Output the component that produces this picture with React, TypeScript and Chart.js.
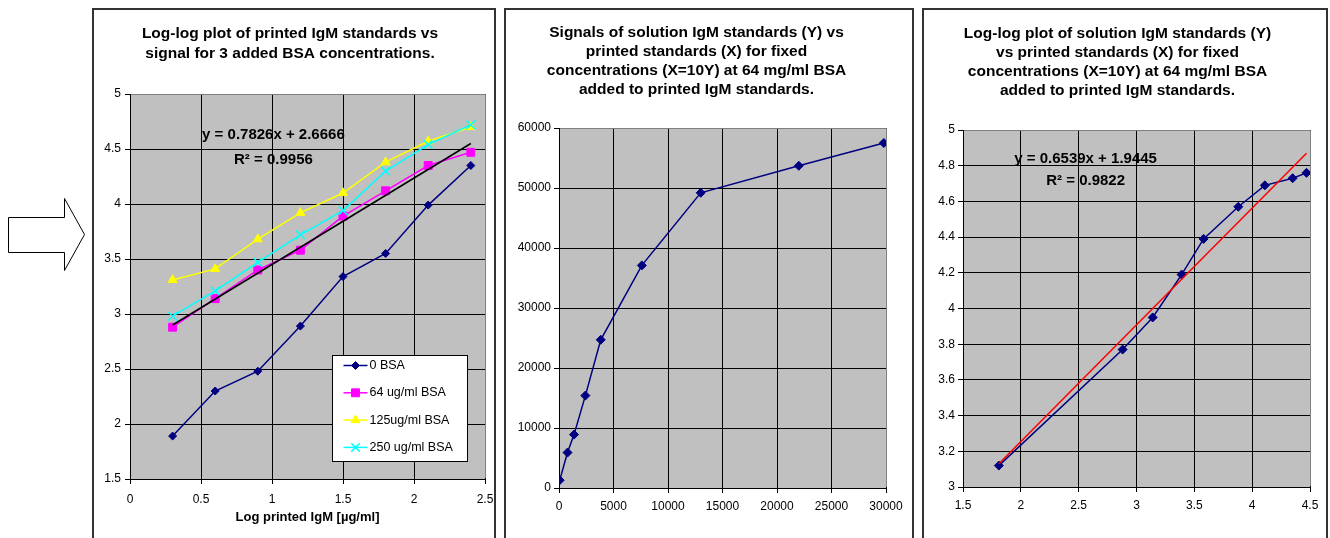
import React, { useEffect, useRef } from "react";
import { Chart, registerables } from "chart.js";
Chart.register(...registerables);

const FONT = "'Liberation Sans', Arial, sans-serif";

// ---------- Panel 1 data ----------
const logPrinted = [0.3, 0.6, 0.9, 1.2, 1.5, 1.8, 2.1, 2.4];
const bsa0 = [1.89, 2.3, 2.48, 2.89, 3.34, 3.55, 3.99, 4.35];
const bsa64 = [2.88, 3.14, 3.4, 3.58, 3.89, 4.12, 4.35, 4.47];
const bsa125 = [3.31, 3.41, 3.68, 3.92, 4.1, 4.38, 4.57, 4.7];
const bsa250 = [2.98, 3.21, 3.47, 3.72, 3.94, 4.3, 4.54, 4.72];
const trend1X = [0.3, 2.4];
const trend1Y = [2.9, 4.55];
const panel1Title = ["Log-log plot of printed IgM standards vs", "signal for 3 added BSA concentrations."];
const panel1Labels = ["0 BSA", "64 ug/ml BSA", "125ug/ml BSA", "250 ug/ml BSA"];
const panel1Eq = ["y = 0.7826x + 2.6666", "R\u00B2 = 0.9956"];

// ---------- Panel 2 data ----------
const printedStd = [64, 780, 1380, 2420, 3830, 7600, 13000, 22000, 29800];
const solutionSignal = [1300, 5900, 8900, 15400, 24700, 37100, 49200, 53700, 57500];
const panel2Title = [
  "Signals of solution IgM standards (Y) vs",
  "printed standards (X) for fixed",
  "concentrations (X=10Y) at 64 mg/ml BSA",
  "added to printed IgM standards.",
];

// ---------- Panel 3 data ----------
const logPrintedStd = [1.81, 2.88, 3.14, 3.39, 3.58, 3.88, 4.11, 4.35, 4.47];
const logSolution = [3.12, 3.77, 3.95, 4.19, 4.39, 4.57, 4.69, 4.73, 4.76];
const trend3X = [1.81, 4.47];
const trend3Y = [3.13, 4.87];
const panel3Title = [
  "Log-log plot of solution IgM standards (Y)",
  "vs printed standards (X) for fixed",
  "concentrations (X=10Y) at 64 mg/ml BSA",
  "added to printed IgM standards.",
];
const panel3Eq = ["y = 0.6539x + 1.9445", "R\u00B2 = 0.9822"];

const pts = (xs: number[], ys: number[]) => xs.map((x, i) => ({ x, y: ys[i] }));
const fmt1 = (v: any) => String(Math.round(Number(v) * 10) / 10);
const fmt0 = (v: any) => String(Math.round(Number(v)));

function drawMarker(ctx: CanvasRenderingContext2D, style: string, x: number, y: number, r: number) {
  ctx.beginPath();
  if (style === "rectRot") {
    ctx.moveTo(x, y - r);
    ctx.lineTo(x + r, y);
    ctx.lineTo(x, y + r);
    ctx.lineTo(x - r, y);
    ctx.closePath();
    ctx.fill();
    ctx.stroke();
  } else if (style === "rect") {
    const s = r * Math.SQRT1_2;
    ctx.rect(x - s, y - s, 2 * s, 2 * s);
    ctx.fill();
    ctx.stroke();
  } else if (style === "triangle") {
    ctx.moveTo(x, y - r);
    ctx.lineTo(x + 0.866 * r, y + 0.5 * r);
    ctx.lineTo(x - 0.866 * r, y + 0.5 * r);
    ctx.closePath();
    ctx.fill();
    ctx.stroke();
  } else if (style === "crossRot") {
    const o = r * Math.SQRT1_2;
    ctx.moveTo(x - o, y - o);
    ctx.lineTo(x + o, y + o);
    ctx.moveTo(x + o, y - o);
    ctx.lineTo(x - o, y + o);
    ctx.stroke();
  }
}

const plotBg = {
  id: "plotBg",
  beforeDraw(chart: any) {
    const { ctx, chartArea: a } = chart;
    ctx.save();
    ctx.fillStyle = "#c0c0c0";
    ctx.fillRect(a.left, a.top, a.right - a.left, a.bottom - a.top);
    ctx.restore();
  },
  beforeDatasetsDraw(chart: any) {
    const { ctx, chartArea: a } = chart;
    ctx.save();
    ctx.strokeStyle = "#808080";
    ctx.lineWidth = 1;
    ctx.beginPath();
    const t = Math.round(a.top) + 0.5;
    const r = Math.round(a.right) + 0.5;
    ctx.moveTo(a.left + 1, t);
    ctx.lineTo(r, t);
    ctx.lineTo(r, a.bottom - 1);
    ctx.stroke();
    ctx.restore();
  },
};

const eqText = {
  id: "eqText",
  afterDatasetsDraw(chart: any, _args: any, opts: any) {
    if (!opts || !opts.items) return;
    const { ctx, scales } = chart;
    ctx.save();
    ctx.fillStyle = "#000";
    ctx.font = `bold ${opts.size}px ${FONT}`;
    ctx.textAlign = "center";
    ctx.textBaseline = "middle";
    for (const it of opts.items) {
      ctx.fillText(it.text, scales.x.getPixelForValue(it.x), scales.y.getPixelForValue(it.y));
    }
    ctx.restore();
  },
};

const boxLegend = {
  id: "boxLegend",
  afterDatasetsDraw(chart: any, _args: any, opts: any) {
    if (!opts || !opts.show) return;
    const { ctx, chartArea: a } = chart;
    const left = Math.round(a.right - opts.right - opts.width) + 0.5;
    const top = Math.round(a.bottom - opts.bottom - opts.height) + 0.5;
    ctx.save();
    ctx.fillStyle = "#fff";
    ctx.strokeStyle = "#000";
    ctx.lineWidth = 1;
    ctx.fillRect(left, top, opts.width, opts.height);
    ctx.strokeRect(left, top, opts.width, opts.height);
    const sets = chart.data.datasets.filter((d: any) => !d.isTrend);
    sets.forEach((d: any, i: number) => {
      const y = top + opts.firstRow + i * opts.rowGap;
      const x1 = left + opts.lineStart;
      const x2 = left + opts.lineEnd;
      ctx.strokeStyle = d.borderColor;
      ctx.lineWidth = d.borderWidth;
      ctx.beginPath();
      ctx.moveTo(x1, y);
      ctx.lineTo(x2, y);
      ctx.stroke();
      ctx.fillStyle = d.pointBackgroundColor;
      ctx.strokeStyle = d.pointBorderColor;
      ctx.lineWidth = d.pointBorderWidth || 1;
      drawMarker(ctx, d.pointStyle, (x1 + x2) / 2, y, d.pointRadius);
      ctx.fillStyle = "#000";
      ctx.font = `${opts.size}px ${FONT}`;
      ctx.textAlign = "left";
      ctx.textBaseline = "middle";
      ctx.fillText(d.label, left + opts.textStart, y);
    });
    ctx.restore();
  },
};

function makeScale(o: any) {
  return {
    type: "linear",
    min: o.min,
    max: o.max,
    ticks: {
      stepSize: o.step,
      color: "#000",
      font: { family: FONT, size: 12 },
      padding: o.pad,
      callback: o.fmt,
      autoSkip: false,
      maxRotation: 0,
    },
    grid: { color: "#000", lineWidth: 1, tickLength: 5, tickColor: "#000", drawTicks: true },
    border: { display: true, color: "#000", width: 1 },
    title: o.title
      ? {
          display: true,
          text: o.title,
          color: "#000",
          font: { family: FONT, size: 13, weight: "bold" },
          padding: { top: 0, bottom: o.titlePadBottom },
        }
      : { display: false },
    afterFit: (s: any) => {
      if (o.width !== undefined) s.width = o.width;
      if (o.height !== undefined) s.height = o.height;
      s.paddingLeft = 0;
      s.paddingRight = 0;
      s.paddingTop = 0;
      s.paddingBottom = 0;
    },
  };
}

function series(label: string, xs: number[], ys: number[], color: string, style: string, r: number, order: number) {
  return {
    label,
    data: pts(xs, ys),
    borderColor: color,
    backgroundColor: color,
    borderWidth: 1.5,
    pointStyle: style,
    pointRadius: r,
    pointBackgroundColor: color,
    pointBorderColor: color,
    pointBorderWidth: style === "crossRot" ? 1.5 : 1,
    showLine: true,
    tension: 0,
    order,
  };
}

function trend(xs: number[], ys: number[], color: string) {
  return {
    label: "trend",
    isTrend: true,
    data: pts(xs, ys),
    borderColor: color,
    borderWidth: 1.5,
    pointRadius: 0,
    showLine: true,
    tension: 0,
    order: 0,
  };
}

function titleOpts(text: string[], lh: number, top: number, bottom: number) {
  return {
    display: true,
    text,
    color: "#000",
    font: { family: FONT, size: 15.5, weight: "bold", lineHeight: `${lh}px` },
    padding: { top, bottom },
  };
}

function baseOptions(extra: any) {
  return {
    type: "line",
    plugins: [plotBg, eqText, boxLegend],
    ...extra,
  };
}

function config1() {
  return baseOptions({
    data: {
      datasets: [
        trend(trend1X, trend1Y, "#000000"),
        series(panel1Labels[0], logPrinted, bsa0, "#000080", "rectRot", 4, 4),
        series(panel1Labels[1], logPrinted, bsa64, "#FF00FF", "rect", 5.6, 3),
        series(panel1Labels[2], logPrinted, bsa125, "#FFFF00", "triangle", 5.2, 2),
        series(panel1Labels[3], logPrinted, bsa250, "#00FFFF", "crossRot", 6, 1),
      ],
    },
    options: {
      animation: false,
      responsive: false,
      layout: { padding: { left: 0, right: 8, top: 0, bottom: 0 } },
      scales: {
        x: makeScale({ min: 0, max: 2.5, step: 0.5, pad: 8, fmt: fmt1, height: 59, title: "Log printed IgM [\u00B5g/ml]", titlePadBottom: 13 }),
        y: makeScale({ min: 1.5, max: 5, step: 0.5, pad: 4, fmt: fmt1, width: 35 }),
      },
      plugins: {
        legend: { display: false },
        tooltip: { enabled: false },
        title: titleOpts(panel1Title, 20, 13, 30),
        eqText: {
          size: 15,
          items: [
            { text: panel1Eq[0], x: 1.01, y: 4.63 },
            { text: panel1Eq[1], x: 1.01, y: 4.4 },
          ],
        },
        boxLegend: {
          show: true,
          right: 18,
          bottom: 18,
          width: 135,
          height: 106,
          firstRow: 10,
          rowGap: 27.3,
          lineStart: 11,
          lineEnd: 35,
          textStart: 37,
          size: 12.5,
        },
      },
    },
  });
}

function config2() {
  return baseOptions({
    data: {
      datasets: [series("signal", printedStd, solutionSignal, "#000080", "rectRot", 4.5, 1)],
    },
    options: {
      animation: false,
      responsive: false,
      layout: { padding: { left: 0, right: 26, top: 0, bottom: 0 } },
      scales: {
        x: makeScale({ min: 0, max: 30000, step: 5000, pad: 6, fmt: fmt0, height: 50 }),
        y: makeScale({ min: 0, max: 60000, step: 10000, pad: 3, fmt: fmt0, width: 52 }),
      },
      plugins: {
        legend: { display: false },
        tooltip: { enabled: false },
        title: titleOpts(panel2Title, 19, 12.5, 28.5),
      },
    },
  });
}

function config3() {
  return baseOptions({
    data: {
      datasets: [
        trend(trend3X, trend3Y, "#FF0000"),
        series("log signal", logPrintedStd, logSolution, "#000080", "rectRot", 4.5, 1),
      ],
    },
    options: {
      animation: false,
      responsive: false,
      layout: { padding: { left: 0, right: 16, top: 0, bottom: 0 } },
      scales: {
        x: makeScale({ min: 1.5, max: 4.5, step: 0.5, pad: 6, fmt: fmt1, height: 51 }),
        y: makeScale({ min: 3, max: 5, step: 0.2, pad: 3, fmt: fmt1, width: 38 }),
      },
      plugins: {
        legend: { display: false },
        tooltip: { enabled: false },
        title: titleOpts(panel3Title, 19, 13.5, 29.5),
        eqText: {
          size: 15,
          items: [
            { text: panel3Eq[0], x: 2.56, y: 4.838 },
            { text: panel3Eq[1], x: 2.56, y: 4.714 },
          ],
        },
      },
    },
  });
}

function ChartCanvas({ left, top, width, height, make }: any) {
  const ref = useRef<HTMLCanvasElement | null>(null);
  useEffect(() => {
    const c = new Chart(ref.current as HTMLCanvasElement, make());
    return () => c.destroy();
  }, []);
  return (
    <canvas
      ref={ref}
      width={width}
      height={height}
      style={{ position: "absolute", left, top, width, height }}
    />
  );
}

function Panel({ left, width }: any) {
  return (
    <div
      style={{
        position: "absolute",
        left,
        top: 8,
        width,
        height: 560,
        border: "2px solid #333",
        boxSizing: "border-box",
        background: "#fff",
      }}
    />
  );
}

export default function App() {
  return (
    <div
      style={{
        position: "fixed",
        left: 0,
        top: 0,
        width: 1330,
        height: 538,
        overflow: "hidden",
        background: "#fff",
      }}
    >
      <svg width={100} height={300} style={{ position: "absolute", left: 0, top: 0 }}>
        <polygon
          points="8.5,217.5 64.5,217.5 64.5,198.5 84.5,234.5 64.5,270.5 64.5,252.5 8.5,252.5"
          fill="#fff"
          stroke="#000"
          strokeWidth={1}
        />
      </svg>
      <Panel left={92} width={404} />
      <Panel left={504} width={410} />
      <Panel left={922} width={406} />
      <ChartCanvas left={95} top={11} width={398} height={527} make={config1} />
      <ChartCanvas left={507} top={11} width={405} height={527} make={config2} />
      <ChartCanvas left={925} top={11} width={401} height={527} make={config3} />
    </div>
  );
}
